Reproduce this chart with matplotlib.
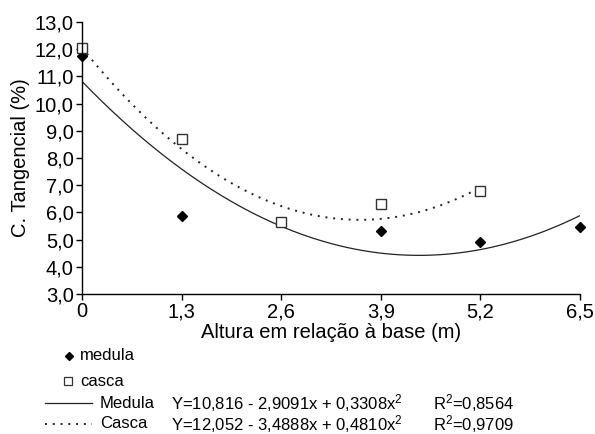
import numpy as np
import matplotlib
matplotlib.use("Agg")
import matplotlib.pyplot as plt
from matplotlib.lines import Line2D

plt.rcParams['font.family'] = ['Liberation Sans', 'DejaVu Sans']

heights = [0.0, 1.3, 2.6, 3.9, 5.2, 6.5]
tick_labels_x = ["0", "1,3", "2,6", "3,9", "5,2", "6,5"]
medula_x = [0.0, 1.3, 3.9, 5.2, 6.5]
medula_y = [11.75, 5.85, 5.3, 4.9, 5.45]
casca_x = [0.0, 1.3, 2.6, 3.9, 5.2]
casca_y = [12.05, 8.7, 5.65, 6.3, 6.8]
medula_coef = [10.816, -2.9091, 0.3308]
casca_coef = [12.052, -3.4888, 0.4810]
yticks = [3, 4, 5, 6, 7, 8, 9, 10, 11, 12, 13]

fig = plt.figure(figsize=(5.95, 4.34), dpi=100)
ax = fig.add_axes([82/595, 1-294/434, (580-82)/595, (294-22)/434])

xm = np.linspace(0, 6.5, 200)
ym = medula_coef[0] + medula_coef[1]*xm + medula_coef[2]*xm**2
xc = np.linspace(0, 5.2, 200)
yc = casca_coef[0] + casca_coef[1]*xc + casca_coef[2]*xc**2
ax.plot(xm, ym, color='#222222', lw=0.9, solid_capstyle='butt')
ax.plot(xc, yc, color='#222222', lw=1.4, linestyle=(0, (1, 3)))
ax.plot(medula_x, medula_y, linestyle='none', marker='D', ms=5.5, color='black', clip_on=False)
ax.plot(casca_x, casca_y, linestyle='none', marker='s', ms=6.5, mfc='white', mec='#333333', mew=1.0, clip_on=False)

ax.set_xlim(0, 6.5)
ax.set_ylim(3, 13)
ax.set_xticks(heights)
ax.set_xticklabels(tick_labels_x)
ax.set_yticks(yticks)
ax.set_yticklabels([f"{v:.1f}".replace('.', ',') for v in yticks])
for s in ['top', 'right']:
    ax.spines[s].set_visible(False)
for s in ['left', 'bottom']:
    ax.spines[s].set_linewidth(1.0)
ax.tick_params(axis='both', labelsize=14.5, length=4, width=1.0, direction='out', colors='black', pad=2)
ax.set_ylabel("C. Tangencial (%)", fontsize=14.5, labelpad=3)
ax.set_xlabel("Altura em relação à base (m)", fontsize=14.5, labelpad=1)

# legend below
fs = 12
fig.add_artist(Line2D([69/595], [1-356/434], marker='D', ms=4.5, color='black', linestyle='none', transform=fig.transFigure))
fig.text(80/595, 1-356/434, "medula", fontsize=fs, va='center', ha='left')
fig.add_artist(Line2D([68/595], [1-381/434], marker='s', ms=6, mfc='white', mec='#333333', mew=0.9, linestyle='none', transform=fig.transFigure))
fig.text(80/595, 1-381/434, "casca", fontsize=fs, va='center', ha='left')
fig.add_artist(Line2D([45/595, 92/595], [1-403/434]*2, color='#222222', lw=0.9, transform=fig.transFigure))
fig.add_artist(Line2D([45/595, 92/595], [1-424/434]*2, color='#222222', lw=1.4, linestyle=(0, (1, 3)), transform=fig.transFigure))
fig.text(100/595, 1-403/434, "Medula", fontsize=fs, va='center', ha='left')
fig.text(100/595, 1-424/434, "Casca", fontsize=fs, va='center', ha='left')
fig.text(171/595, 1-403/434, r"Y=10,816 - 2,9091x + 0,3308x$\mathregular{^2}$", fontsize=fs, va='center', ha='left')
fig.text(171/595, 1-424/434, r"Y=12,052 - 3,4888x + 0,4810x$\mathregular{^2}$", fontsize=fs, va='center', ha='left')
fig.text(433/595, 1-403/434, r"R$\mathregular{^2}$=0,8564", fontsize=fs, va='center', ha='left')
fig.text(433/595, 1-424/434, r"R$\mathregular{^2}$=0,9709", fontsize=fs, va='center', ha='left')

fig.savefig("out.png", dpi=100)
